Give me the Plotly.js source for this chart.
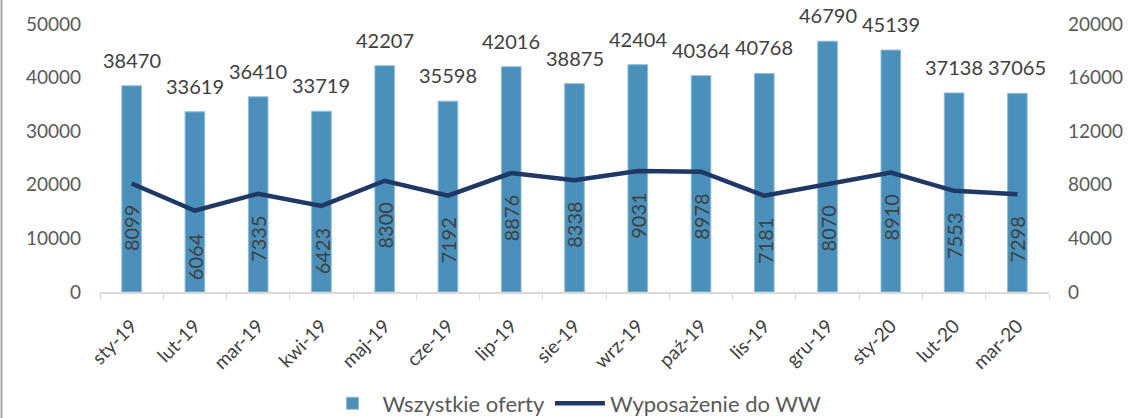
<!DOCTYPE html>
<html>
<head>
<meta charset="utf-8">
<script src="https://cdn.plot.ly/plotly-3.0.1.min.js"></script>
<style>html,body{margin:0;padding:0;background:#fff;}#chart{width:1134px;height:418px;}</style>
</head>
<body>
<div id="chart"></div>
<script>
const categories = ["sty-19","lut-19","mar-19","kwi-19","maj-19","cze-19","lip-19","sie-19","wrz-19","paź-19","lis-19","gru-19","sty-20","lut-20","mar-20"];
const allOffers = [38470,33619,36410,33719,42207,35598,42016,38875,42404,40364,40768,46790,45139,37138,37065];
const equipmentWW = [8099,6064,7335,6423,8300,7192,8876,8338,9031,8978,7181,8070,8910,7553,7298];
const leftTicks = [0,10000,20000,30000,40000,50000];
const rightTicks = [0,4000,8000,12000,16000,20000];

const FONT = "Lato, 'Open Sans', sans-serif";

const traces = [
  {
    type: "bar",
    name: "Wszystkie oferty",
    x: categories,
    y: allOffers,
    marker: {color: "#4a90ba", line: {color: "#8fbcd8", width: 1}},
    hoverinfo: "x+y"
  },
  {
    type: "scatter",
    mode: "lines",
    name: "Wyposażenie do WW",
    x: categories,
    y: equipmentWW,
    yaxis: "y2",
    line: {color: "#1f3864", width: 4.5},
    hoverinfo: "x+y"
  }
];

const barLabels = categories.map((c, i) => ({
  x: c, y: allOffers[i], xref: "x", yref: "y",
  text: String(allOffers[i]),
  showarrow: false,
  xanchor: "center", yanchor: "bottom",
  yshift: 12,
  font: {family: FONT, size: 20, color: "#404040"}
}));

const lineLabels = categories.map((c, i) => ({
  x: c, y: equipmentWW[i], xref: "x", yref: "y2",
  text: String(equipmentWW[i]),
  textangle: -90,
  showarrow: false,
  xanchor: "center", yanchor: "top",
  yshift: -20,
  font: {family: FONT, size: 20, color: "#404040"}
}));

const layout = {
  width: 1134, height: 418,
  margin: {l: 100, r: 85, t: 24, b: 126},
  paper_bgcolor: "#fff", plot_bgcolor: "#fff",
  font: {family: FONT, color: "#595959"},
  bargap: 0.69,
  showlegend: true,
  legend: {
    orientation: "h", xref: "paper", x: 0.5, xanchor: "center",
    yref: "container", y: 0.085, yanchor: "top",
    font: {family: FONT, size: 22, color: "#595959"},
    itemwidth: 50
  },
  xaxis: {
    type: "category",
    automargin: false,
    tickangle: -45,
    tickfont: {family: FONT, size: 19, color: "#404040"},
    ticklabelstandoff: 14,
    showline: true, linecolor: "#d9d9d9", linewidth: 1.5,
    ticks: "outside", tickson: "boundaries", ticklen: 6, tickcolor: "#d9d9d9",
    showgrid: false, zeroline: false
  },
  yaxis: {
    automargin: false,
    range: [0, 50000],
    tickvals: leftTicks, ticktext: leftTicks.map(String),
    tickfont: {family: FONT, size: 19, color: "#595959"},
    showgrid: false, zeroline: false, showline: false,
    ticklabelstandoff: 18
  },
  yaxis2: {
    automargin: false,
    overlaying: "y", side: "right",
    range: [0, 20000],
    tickvals: rightTicks, ticktext: rightTicks.map(String),
    tickfont: {family: FONT, size: 19, color: "#595959"},
    showgrid: false, zeroline: false, showline: false,
    ticklabelstandoff: 18
  },
  annotations: barLabels.concat(lineLabels),
  shapes: [{
    type: "line", xref: "paper", yref: "paper",
    x0: -98.5/949, x1: -98.5/949, y0: -0.6, y1: 1.2,
    line: {color: "#a6a6a6", width: 2}
  }]
};

Plotly.newPlot("chart", traces, layout, {displayModeBar: false, staticPlot: true});
</script>
</body>
</html>
